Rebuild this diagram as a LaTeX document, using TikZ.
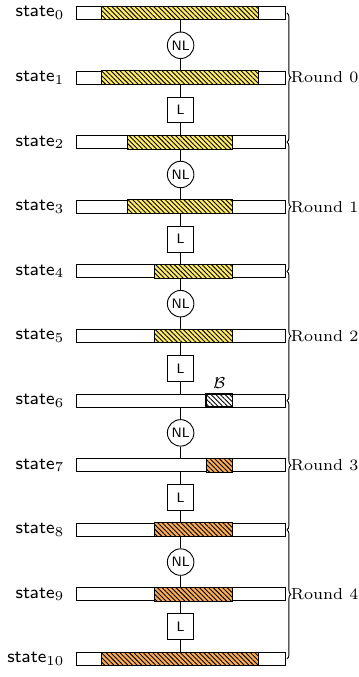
\documentclass[tikz,border=0pt]{standalone}
\usepackage{amsmath,amssymb}
\usetikzlibrary{positioning,patterns.meta,decorations.pathreplacing}
\definecolor{hatchyellow}{RGB}{255,236,110}
\definecolor{hatchorange}{RGB}{248,172,92}

\begin{document}
\begin{tikzpicture}
\tikzstyle{every path}=[thin]

\edef\cellw{0.405cm}
\tikzstyle{statebar}=[draw,minimum width=3.24cm,minimum height=0.2cm,inner sep=0pt]
\tikzstyle{hatched}=[postaction={pattern={Lines[angle=-45,distance=1.45pt,line width=0.4pt]}}]
\tikzstyle{nlop}=[circle,draw,fill=white,minimum size=0.41cm,inner sep=0pt,font=\fontsize{6}{7}\selectfont\sffamily]
\tikzstyle{lop}=[draw,fill=white,minimum size=0.4cm,inner sep=0pt,font=\fontsize{6}{7}\selectfont\sffamily]
\tikzstyle{roundbrace}=[decorate,decoration={brace,amplitude=1.8pt}]

\useasboundingbox (-1.176,0.201) rectangle (4.381,-10.279);

%% Draw states
\foreach \i in {0,...,10} {
  \node [statebar] (s\i) at (1.62,-\i) {};
  \node [left=0.05cm of s\i,font=\footnotesize] (name\i) {$\mathsf{state}_{\i}$};
}

%% Active cells of each state
\foreach \i/\a/\b/\col in {0/1/7/hatchyellow,1/1/7/hatchyellow,2/2/6/hatchyellow,
    3/2/6/hatchyellow,4/3/6/hatchyellow,5/3/6/hatchyellow,7/5/6/hatchorange,
    8/3/6/hatchorange,9/3/6/hatchorange,10/1/7/hatchorange}
  \draw [fill=\col,hatched] ([xshift=\a*\cellw]s\i.south west) rectangle ([xshift=\b*\cellw]s\i.north west);

%% Cell B in state 6
\node [draw,thick,hatched,minimum width=\cellw,minimum height=0.2cm,inner sep=0pt] (bcell) at ([xshift=5.5*\cellw]s6.west) {};
\node [above=-0.05cm of bcell,font=\scriptsize] (blabel) {$\mathcal{B}$};

%% Round functions between states
\foreach \i in {0,...,9} {
  \pgfmathtruncatemacro\j{\i+1}
  \ifodd\i
    \node [lop] (f\i) at (1.62,-\i-0.5) {L};
  \else
    \node [nlop] (f\i) at (1.62,-\i-0.5) {NL};
  \fi
  \draw (s\i) -- (f\i) -- (s\j);
}

%% Braces for rounds
\foreach \r in {0,...,4} {
  \pgfmathtruncatemacro\ra{2*\r}
  \pgfmathtruncatemacro\rb{2*\r+2}
  \draw [roundbrace] ([xshift=0.5pt]s\ra.east) -- ([xshift=0.5pt]s\rb.east)
    node [midway,right=1.6pt,inner sep=0pt,font=\scriptsize] (round\r) {Round \r};
}
\end{tikzpicture}
\end{document}
